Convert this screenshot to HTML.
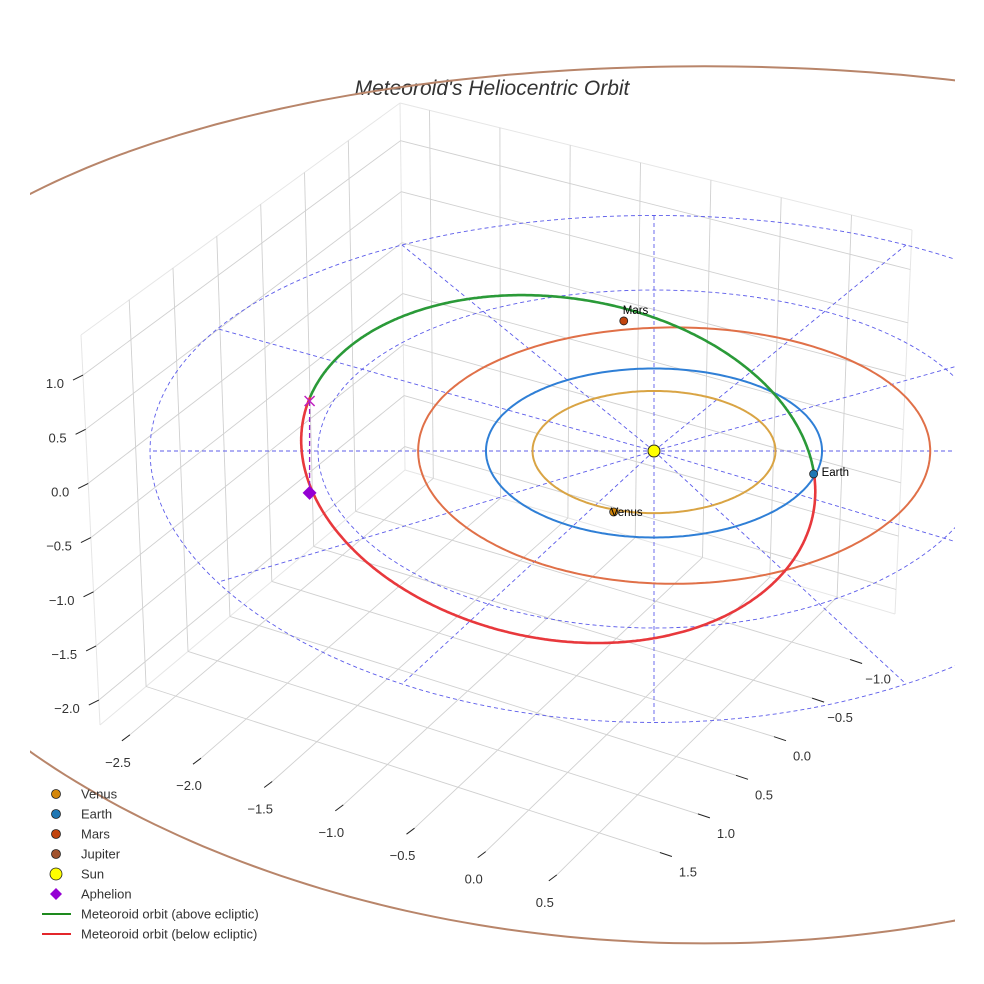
<!DOCTYPE html>
<html><head><meta charset="utf-8"><style>
html,body{margin:0;padding:0;background:#fff;}
svg{display:block;font-family:"Liberation Sans",sans-serif;}
</style></head>
<body>
<svg id="chart" width="984" height="984" viewBox="0 0 984 984" xmlns="http://www.w3.org/2000/svg">
<defs><clipPath id="clip"><rect x="30" y="0" width="925" height="984"/></clipPath></defs>
<text x="492" y="95" text-anchor="middle" font-size="21" font-style="italic" fill="#333">Meteoroid's Heliocentric Orbit</text>
<g id="grid"></g>
<g id="ticks"></g>
<g id="plot" clip-path="url(#clip)"></g>
<g id="legend"></g>
</svg>
<script>
// ---- axis data ----
const xTicks = [-2.5, -2.0, -1.5, -1.0, -0.5, 0.0, 0.5];
const yTicks = [-1.0, -0.5, 0.0, 0.5, 1.0, 1.5];
const zTicks = [-2.0, -1.5, -1.0, -0.5, 0.0, 0.5, 1.0];
const xRange = [-2.71, 0.93];
const yRange = [-1.59, 2.05];
const zRange = [-2.23, 1.37];
// ---- orbit data ----
const orbitNames = ['Venus', 'Earth', 'Mars', 'Jupiter'];
const orbitA = [0.723, 1.0, 1.524, 5.2];
const orbitB = [0.723, 1.0, 1.517, 5.19];
const orbitCenterX = [0, 0, 0.12, 0.3];
const orbitColors = ['#d9a444', '#2f7fd6', '#e07048', '#b8856a'];
const planetNames = ['Venus', 'Earth', 'Mars'];
const planetX = [-0.24, 0.95, -0.18];
const planetY = [0.71, 0.27, -1.6];
const planetColors = ['#d4870a', '#1f77b4', '#c1440e'];
const ringRadii = [1, 2, 3];
const spokeAngles = [0, 30, 60, 90, 120, 150, 180, 210, 240, 270, 300, 330];
const meteoroidCenter = [-0.57, 0.03];
const meteoroidAxes = [1.53, 1.27, 0.36];
const meteoroidTilt = [0.6, 0.078, -0.112];
const aphelionPoint = [-2.05, -0.6, -0.85];

const NS = 'http://www.w3.org/2000/svg';
function mk(tag, attrs, parent) {
  const e = document.createElementNS(NS, tag);
  for (const k in attrs) e.setAttribute(k, attrs[k]);
  parent.appendChild(e);
  return e;
}
const Bb=[405,470], Br=[895,614], Bf=[618,895], Bl=[100,725];
const Tb=[400,103], Tr=[912,230], Tl=[81,335], Tf=[593,462];
function bil(q00,q10,q11,q01,s,t){
  return [q00[0]*(1-s)*(1-t)+q10[0]*s*(1-t)+q11[0]*s*t+q01[0]*(1-s)*t,
          q00[1]*(1-s)*(1-t)+q10[1]*s*(1-t)+q11[1]*s*t+q01[1]*(1-s)*t];
}
function P(s,t,w){
  const f=bil(Bb,Br,Bf,Bl,s,t), u=bil(Tb,Tr,Tf,Tl,s,t);
  return [f[0]+w*(u[0]-f[0]), f[1]+w*(u[1]-f[1])];
}
const sx = v => (v - xRange[0])/(xRange[1]-xRange[0]);
const sy = v => (v - yRange[0])/(yRange[1]-yRange[0]);
const sz = v => (v - zRange[0])/(zRange[1]-zRange[0]);
function proj(x,y,z){ return [654 + 168*x, 451 + 84.5*y + 2.0*y*y - 108*z]; }

const grid = document.getElementById('grid');
const ticks = document.getElementById('ticks');
const plot = document.getElementById('plot');
const legend = document.getElementById('legend');
const gc = '#d0d0d0';
function line(p,q,parent,stroke,w,name,dash){
  const l = mk('line',{x1:p[0].toFixed(1),y1:p[1].toFixed(1),x2:q[0].toFixed(1),y2:q[1].toFixed(1),stroke:stroke,'stroke-width':w},parent);
  if(dash) l.setAttribute('stroke-dasharray',dash);
  
  
  return l;
}
[[P(0,1,0),P(0,0,0)],[P(0,0,0),P(1,0,0)],[P(0,0,0),P(0,0,1)],[P(0,1,1),P(0,0,1)],[P(0,0,1),P(1,0,1)],[P(0,1,0),P(0,1,1)],[P(1,0,0),P(1,0,1)]].forEach(e=>line(e[0],e[1],grid,'#e6e6e6',1,'pane-edge'));
xTicks.forEach(v=>{const s=sx(v);
  line(P(s,0,0),P(s,1,0),grid,gc,0.9,'floor-grid-x');
  line(P(s,0,0),P(s,0,1),grid,gc,0.9,'wall-grid-x');});
yTicks.forEach(v=>{const t=sy(v);
  line(P(0,t,0),P(1,t,0),grid,gc,0.9,'floor-grid-y');
  line(P(0,t,0),P(0,t,1),grid,gc,0.9,'wall-grid-y');});
zTicks.forEach(v=>{const w=sz(v);
  line(P(0,1,w),P(0,0,w),grid,gc,0.9,'wall-grid-z');
  line(P(0,0,w),P(1,0,w),grid,gc,0.9,'wall-grid-z');});
function fmt(v){ return (v<0?'\u2212':'')+Math.abs(v).toFixed(1); }
function label(x,y,txt,anchor,name){
  const t = mk('text',{x:x.toFixed(1),y:y.toFixed(1),'text-anchor':anchor,'font-size':13,fill:'#333'},ticks);
  t.textContent = txt;
  
  
}
xTicks.forEach(v=>{const p=P(sx(v),1,0);
  line(p,[p[0]-8,p[1]+6],ticks,'#222',1,'x-tick');
  label(p[0]-12,p[1]+32,fmt(v),'middle','x-tick-label');});
yTicks.forEach(v=>{const p=P(1,sy(v),0);
  line(p,[p[0]+12,p[1]+4],ticks,'#222',1,'y-tick');
  label(p[0]+28,p[1]+24,fmt(v),'middle','y-tick-label');});
zTicks.forEach(v=>{const p=P(0,1,sz(v));
  line(p,[p[0]-10,p[1]+5],ticks,'#222',1,'z-tick');
  label(p[0]-19,p[1]+13,fmt(v),'end','z-tick-label');});

function polyPts(pts){ return pts.map(p=>p[0].toFixed(1)+','+p[1].toFixed(1)).join(' '); }
ringRadii.forEach(r=>{const pts=[];
  for(let i=0;i<=360;i+=2){const a=i*Math.PI/180; pts.push(proj(r*Math.cos(a),r*Math.sin(a),0));}
  const pl=mk('polyline',{points:polyPts(pts),fill:'none',stroke:'#5c5cea','stroke-width':0.9,'stroke-dasharray':'4,3'},plot);
  
  });
spokeAngles.forEach(d=>{const a=d*Math.PI/180;
  line(proj(0,0,0),proj(3*Math.cos(a),3*Math.sin(a),0),plot,'#5c5cea',0.9,'ecliptic-spoke','4,3');});
orbitNames.forEach((n,i)=>{const pts=[];
  for(let k=0;k<=360;k+=1){const a=k*Math.PI/180; pts.push(proj(orbitCenterX[i]+orbitA[i]*Math.cos(a),orbitB[i]*Math.sin(a),0));}
  const pl=mk('polyline',{points:polyPts(pts),fill:'none',stroke:orbitColors[i],'stroke-width':2},plot);
  
  });
let seg=[], segSign=null;
function flush(){
  if(seg.length>1){
    const pl=mk('polyline',{points:polyPts(seg),fill:'none',stroke:segSign?'#2a9a38':'#e8383c','stroke-width':2.6,'stroke-linecap':'round'},plot);
    
    
  }
}
for(let k=0;k<=720;k++){
  const th=-Math.PI+k*Math.PI/360;
  const x=meteoroidCenter[0]+meteoroidAxes[0]*Math.cos(th);
  const y=meteoroidCenter[1]+meteoroidAxes[1]*Math.sin(th)+meteoroidAxes[2]*Math.cos(th);
  const z=meteoroidTilt[2]-meteoroidTilt[0]*Math.sin(th-meteoroidTilt[1]);
  const sg=z>=0, p=proj(x,y,z);
  if(segSign===null) segSign=sg;
  if(sg!==segSign){ seg.push(p); flush(); seg=[p]; segSign=sg; } else seg.push(p);
}
flush();
const apTop=proj(aphelionPoint[0],aphelionPoint[1],0), apPt=proj(aphelionPoint[0],aphelionPoint[1],aphelionPoint[2]);
line(apTop,apPt,plot,'#9a1fc8',1.3,'aphelion-drop-line','5,3');
const xm=mk('path',{d:`M${apTop[0]-5},${apTop[1]-5}L${apTop[0]+5},${apTop[1]+5}M${apTop[0]-5},${apTop[1]+5}L${apTop[0]+5},${apTop[1]-5}`,stroke:'#c020c0','stroke-width':1.5},plot);


const dm=mk('path',{d:`M${apPt[0]},${apPt[1]-7}L${apPt[0]+7},${apPt[1]}L${apPt[0]},${apPt[1]+7}L${apPt[0]-7},${apPt[1]}Z`,fill:'#9400d3'},plot);


const sp=proj(0,0,0);
const sun=mk('circle',{cx:sp[0],cy:sp[1],r:6,fill:'#ffff00',stroke:'#222','stroke-width':1},plot);


const labelOff=[[-3,4],[8,2],[-1,-7]];
planetNames.forEach((n,i)=>{const p=proj(planetX[i],planetY[i],0);
  const c=mk('circle',{cx:p[0],cy:p[1],r:4,fill:planetColors[i],stroke:'#222','stroke-width':0.8},plot);
  
  
  const t=mk('text',{x:p[0]+labelOff[i][0],y:p[1]+labelOff[i][1],'font-size':11.5,fill:'#000'},plot);
  t.textContent=n;
  
  });
const legItems=[['Venus','dot','#d4870a'],['Earth','dot','#1f77b4'],['Mars','dot','#c1440e'],['Jupiter','dot','#a0522d'],['Sun','sun','#ffff00'],['Aphelion','diamond','#9400d3'],['Meteoroid orbit (above ecliptic)','line','#1e8a1e'],['Meteoroid orbit (below ecliptic)','line','#e3262b']];
legItems.forEach((it,i)=>{const y=794+i*20;
  const g=mk('g',{},legend);
  
  
  if(it[1]==='dot') mk('circle',{cx:56,cy:y,r:4.5,fill:it[2],stroke:'#222','stroke-width':0.8},g);
  else if(it[1]==='sun') mk('circle',{cx:56,cy:y,r:6,fill:it[2],stroke:'#222','stroke-width':0.8},g);
  else if(it[1]==='diamond') mk('path',{d:`M56,${y-6}L62,${y}L56,${y+6}L50,${y}Z`,fill:it[2]},g);
  else mk('line',{x1:42,y1:y,x2:71,y2:y,stroke:it[2],'stroke-width':2},g);
  const t=mk('text',{x:81,y:y+4.5,'font-size':13,fill:'#333'},g);
  t.textContent=it[0];});
</script>
</body></html>
